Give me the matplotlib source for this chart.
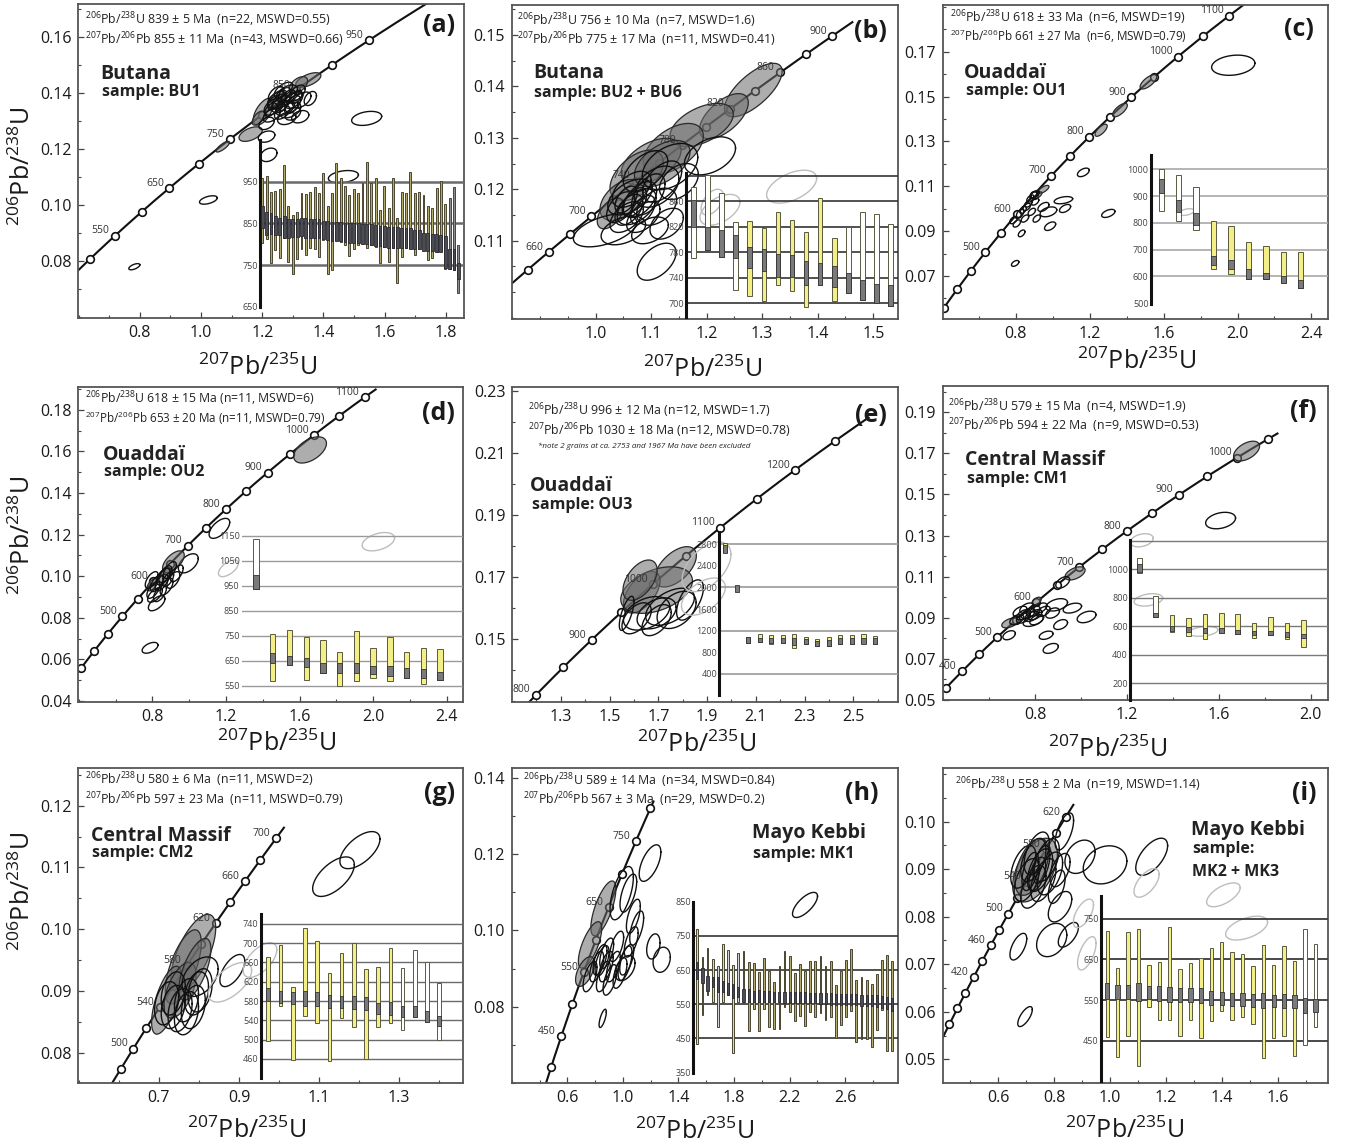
import numpy as np
import matplotlib
matplotlib.use("Agg")
import matplotlib.pyplot as plt
from matplotlib.ticker import MultipleLocator, FormatStrFormatter

plt.rcParams['font.family'] = ['Open Sans', 'DejaVu Sans']
plt.rcParams['mathtext.fontset'] = 'custom'
plt.rcParams['mathtext.rm'] = 'Open Sans'
plt.rcParams['mathtext.it'] = 'Open Sans:italic'
plt.rcParams['mathtext.bf'] = 'Open Sans:bold'

W, H = 1349, 1146
L238, L235 = 1.55125e-10, 9.8485e-10
nan = np.nan

# ---------------------------------------------------------------- (a) Butana BU1
a_header = [r"$^{206}$Pb/$^{238}$U 839 ± 5 Ma  (n=22, MSWD=0.55)",
            r"$^{207}$Pb/$^{206}$Pb 855 ± 11 Ma  (n=43, MSWD=0.66)"]
a_region, a_sample = "Butana", "sample: BU1"
a_marker_ages = list(range(500, 951, 50))
a_label_ages = [550, 650, 750, 850, 950]
a_xticks = [0.8, 1.0, 1.2, 1.4, 1.6, 1.8]
a_yticks = [0.08, 0.10, 0.12, 0.14, 0.16]
a_ell = [(1.071, 0.1208, 0.022, 0.0019, 0.8, 'g'), (1.162, 0.1253, 0.038, 0.0026, 0.5, 'g'),
         (1.2035, 0.1333, 0.033, 0.0048, 0.6, 'g'), (1.3505, 0.1446, 0.041, 0.0026, 0.6, 'g'),
         (1.318, 0.1428, 0.030, 0.0030, 0.5, 'g'), (1.187, 0.1310, 0.020, 0.0025, 0.6, 'g'),
         (1.25, 0.1380, 0.030, 0.0030, 0.6, 'g'),
         (1.280, 0.1398, 0.035, 0.0030, 0.5, 'o'), (1.302, 0.1375, 0.030, 0.0030, 0.5, 'o'),
         (1.247, 0.1375, 0.030, 0.0030, 0.5, 'o'), (1.236, 0.1351, 0.030, 0.0030, 0.5, 'o'),
         (1.291, 0.1339, 0.035, 0.0028, 0.4, 'o'), (1.329, 0.1375, 0.030, 0.0028, 0.5, 'o'),
         (1.269, 0.1410, 0.030, 0.0028, 0.6, 'o'), (1.231, 0.1321, 0.028, 0.0025, 0.5, 'o'),
         (1.280, 0.1309, 0.030, 0.0022, 0.3, 'o'), (1.214, 0.1291, 0.025, 0.0022, 0.4, 'o'),
         (1.214, 0.1244, 0.027, 0.0020, 0.3, 'o'), (1.357, 0.1380, 0.020, 0.0025, 0.4, 'o'),
         (1.324, 0.1315, 0.028, 0.0022, 0.3, 'o'), (1.26, 0.1360, 0.030, 0.0030, 0.5, 'o'),
         (1.30, 0.1360, 0.025, 0.0030, 0.5, 'o'), (1.245, 0.1395, 0.025, 0.0028, 0.5, 'o'),
         (1.315, 0.1400, 0.025, 0.0028, 0.5, 'o'), (1.275, 0.1345, 0.030, 0.0025, 0.5, 'o'),
         (1.255, 0.1370, 0.022, 0.0026, 0.5, 'o'), (1.285, 0.1385, 0.022, 0.0026, 0.5, 'o'),
         (1.265, 0.1330, 0.025, 0.0024, 0.5, 'o'), (1.295, 0.1350, 0.022, 0.0024, 0.5, 'o'),
         (1.240, 0.1365, 0.022, 0.0026, 0.5, 'o'), (1.272, 0.1395, 0.020, 0.0024, 0.5, 'o'),
         (1.310, 0.1385, 0.020, 0.0024, 0.5, 'o'), (1.228, 0.1340, 0.020, 0.0024, 0.5, 'o'),
         (1.300, 0.1325, 0.025, 0.0022, 0.4, 'o'), (1.262, 0.1352, 0.018, 0.0022, 0.5, 'o'),
         (1.221, 0.1179, 0.027, 0.0024, 0.3, 'o'), (1.465, 0.1101, 0.049, 0.0022, 0.3, 'o'),
         (1.541, 0.1309, 0.049, 0.0025, 0.3, 'o'), (1.024, 0.1018, 0.029, 0.0015, 0.5, 'o'),
         (0.782, 0.0780, 0.018, 0.0011, 0.6, 'o')]
a_out_hi = [958, 964, 926, 928, 932, 990, 892, 870, 878, 924, 920, 926, 938, 924, 970, 892, 922, 996, 958, 940,
            918, 932, 922, 948, 998, 948, 958, 882, 940, 886, 958, 862, 926, 924, 974, 924, 926, 918, 892, 888,
            934, 952, 896, 912, 938, 798]
a_out_lo = [802, 812, 756, 786, 766, 814, 758, 728, 764, 788, 774, 790, 788, 770, 810, 728, 738, 810, 806, 798,
            772, 788, 798, 800, 792, 798, 794, 754, 794, 758, 792, 706, 770, 792, 792, 774, 788, 786, 762, 766,
            782, 786, 740, 740, 738, 684]
a_in_hi = [892, 878, 876, 868, 862, 868, 860, 860, 860, 862, 862, 860, 860, 860, 856, 856, 854, 854, 854, 852,
           852, 850, 850, 848, 848, 848, 846, 844, 844, 842, 842, 842, 838, 838, 838, 834, 834, 828, 826, 824,
           824, 822, 820, 788, 788, 754]
a_in_lo = [840, 822, 824, 822, 822, 816, 816, 818, 818, 820, 816, 814, 814, 814, 812, 810, 808, 808, 808, 806,
           804, 804, 802, 800, 800, 798, 796, 796, 794, 792, 792, 790, 790, 790, 788, 788, 788, 784, 784, 784,
           782, 782, 742, 740, 738, 716]
a_kind = 'y' * 43 + 'www'
a_inset_lines = [950, 850, 750]
a_inset_labels = [950, 850, 750, 650]

# ---------------------------------------------------------------- (b) Butana BU2+BU6
b_header = [r"$^{206}$Pb/$^{238}$U 756 ± 10 Ma  (n=7, MSWD=1.6)",
            r"$^{207}$Pb/$^{206}$Pb 775 ± 17 Ma  (n=11, MSWD=0.41)"]
b_region, b_sample = "Butana", "sample: BU2 + BU6"
b_marker_ages = list(range(640, 901, 20))
b_label_ages = [660, 700, 740, 780, 820, 860, 900]
b_xticks = [1.0, 1.1, 1.2, 1.3, 1.4, 1.5]
b_yticks = [0.11, 0.12, 0.13, 0.14, 0.15]
b_ell = [(1.284, 0.1393, 0.052, 0.0052, 0.7, 'g'), (1.231, 0.1342, 0.044, 0.0044, 0.6, 'g'),
         (1.191, 0.1325, 0.057, 0.0042, 0.5, 'g'), (1.140, 0.1279, 0.054, 0.0049, 0.5, 'g'),
         (1.100, 0.1254, 0.054, 0.0045, 0.5, 'g'), (1.074, 0.1227, 0.048, 0.0049, 0.5, 'g'),
         (1.047, 0.1179, 0.039, 0.0040, 0.45, 'g'), (1.027, 0.1153, 0.024, 0.0030, 0.5, 'g'),
         (1.120, 0.1250, 0.050, 0.0045, 0.5, 'g'),
         (1.134, 0.1244, 0.050, 0.0045, 0.4, 'o'), (1.206, 0.1265, 0.046, 0.0037, 0.4, 'o'),
         (1.110, 0.1205, 0.040, 0.0040, 0.4, 'o'), (1.062, 0.1185, 0.040, 0.0035, 0.5, 'o'),
         (1.074, 0.1166, 0.035, 0.0035, 0.5, 'o'), (1.056, 0.1146, 0.030, 0.0030, 0.5, 'o'),
         (1.086, 0.1146, 0.030, 0.0030, 0.5, 'o'), (1.098, 0.1120, 0.033, 0.0026, 0.4, 'o'),
         (1.050, 0.1120, 0.040, 0.0028, 0.4, 'o'), (1.017, 0.1120, 0.057, 0.0032, 0.5, 'o'),
         (1.110, 0.1166, 0.036, 0.0036, 0.4, 'o'), (1.128, 0.1133, 0.030, 0.0030, 0.4, 'o'),
         (1.110, 0.1059, 0.035, 0.0036, 0.5, 'o'), (1.065, 0.1200, 0.035, 0.0035, 0.5, 'o'),
         (1.080, 0.1180, 0.030, 0.0035, 0.5, 'o'), (1.095, 0.1190, 0.030, 0.0040, 0.5, 'o'),
         (1.060, 0.1160, 0.025, 0.0030, 0.5, 'o'), (1.045, 0.1165, 0.025, 0.0030, 0.5, 'o'),
         (1.090, 0.1235, 0.040, 0.0040, 0.5, 'o'), (1.120, 0.1215, 0.035, 0.0040, 0.5, 'o'),
         (1.150, 0.1215, 0.035, 0.0035, 0.4, 'o'), (1.070, 0.1175, 0.022, 0.0028, 0.5, 'o'),
         (1.085, 0.1160, 0.022, 0.0028, 0.5, 'o'), (1.055, 0.1180, 0.020, 0.0026, 0.5, 'o'),
         (1.353, 0.1205, 0.045, 0.0032, 0.5, 'l'), (1.224, 0.1160, 0.036, 0.0030, 0.5, 'l'),
         (1.210, 0.1175, 0.020, 0.0025, 0.5, 'l')]
b_out_hi = [883, 901, 873, 828, 829, 818, 844, 831, 812, 865, 802, 820, 844, 840, 824]
b_out_lo = [771, 784, 773, 721, 712, 703, 729, 719, 695, 729, 703, 716, 705, 700, 696]
b_in_hi = [862, 820, 815, 807, 789, 785, 777, 776, 767, 763, 759, 748, 737, 731, 729]
b_in_lo = [820, 784, 773, 771, 755, 750, 742, 741, 729, 729, 725, 716, 705, 700, 696]
b_kind = 'wwwwyyyyyyywwww'
b_inset_lines = [900, 860, 820, 780, 740, 700]
b_inset_labels = [860, 820, 780, 740, 700]

# ---------------------------------------------------------------- (c) Ouaddai OU1
c_header = [r"$^{206}$Pb/$^{238}$U 618 ± 33 Ma  (n=6, MSWD=19)",
            r"$^{207}$Pb/$^{206}$Pb 661 ± 27 Ma  (n=6, MSWD=0.79)"]
c_region, c_sample = "Ouaddaï", "sample: OU1"
c_marker_ages = list(range(350, 1101, 50))
c_label_ages = [500, 600, 700, 800, 900, 1000, 1100]
c_xticks = [0.8, 1.2, 1.6, 2.0, 2.4]
c_yticks = [0.07, 0.09, 0.11, 0.13, 0.15, 0.17]
c_ell = [(1.518, 0.1566, 0.045, 0.0032, 0.7, 'g'), (1.364, 0.1440, 0.040, 0.0030, 0.7, 'g'),
         (1.262, 0.1350, 0.033, 0.0027, 0.7, 'g'), (0.950, 0.1086, 0.030, 0.0018, 0.7, 'g'),
         (0.922, 0.1060, 0.020, 0.0015, 0.7, 'g'),
         (1.977, 0.1640, 0.117, 0.0045, 0.2, 'o'), (1.166, 0.1162, 0.032, 0.0019, 0.5, 'o'),
         (1.301, 0.0979, 0.036, 0.0018, 0.5, 'o'), (1.058, 0.1038, 0.050, 0.0016, 0.4, 'o'),
         (1.067, 0.1001, 0.030, 0.0018, 0.5, 'o'), (0.977, 0.0986, 0.045, 0.0022, 0.4, 'o'),
         (0.950, 0.1008, 0.030, 0.0020, 0.5, 'o'), (0.986, 0.0922, 0.030, 0.0019, 0.5, 'o'),
         (0.905, 0.1031, 0.020, 0.0015, 0.5, 'o'), (0.896, 0.1061, 0.020, 0.0015, 0.5, 'o'),
         (0.887, 0.0986, 0.020, 0.0016, 0.5, 'o'), (0.860, 0.1008, 0.020, 0.0016, 0.5, 'o'),
         (0.832, 0.0890, 0.018, 0.0015, 0.5, 'o'), (0.797, 0.0756, 0.020, 0.0013, 0.5, 'o'),
         (0.824, 0.0979, 0.020, 0.0018, 0.5, 'o'), (0.788, 0.0949, 0.020, 0.0016, 0.5, 'o'),
         (0.806, 0.0934, 0.020, 0.0016, 0.5, 'o'), (0.850, 0.0956, 0.020, 0.0016, 0.5, 'o'),
         (0.869, 0.1023, 0.020, 0.0016, 0.5, 'o'), (0.914, 0.0956, 0.020, 0.0016, 0.5, 'o'),
         (0.840, 0.0995, 0.018, 0.0016, 0.5, 'o'), (0.880, 0.1045, 0.020, 0.0016, 0.5, 'o'),
         (0.905, 0.1065, 0.022, 0.0016, 0.5, 'o'),
         (1.725, 0.0985, 0.040, 0.0015, 0.4, 'l')]
c_out_hi = [1000, 979, 933, 806, 787, 728, 715, 692, 692]
c_out_lo = [845, 808, 775, 629, 608, 592, 589, 574, 558]
c_in_hi = [963, 886, 837, 676, 663, 626, 614, 601, 587]
c_in_lo = [913, 840, 793, 642, 629, 592, 589, 574, 558]
c_kind = 'wwwyyyyyy'
c_inset_lines = [1000, 900, 800, 700, 600]
c_inset_labels = [1000, 900, 800, 700, 600, 500]

# ---------------------------------------------------------------- (d) Ouaddai OU2
d_header = [r"$^{206}$Pb/$^{238}$U 618 ± 15 Ma (n=11, MSWD=6)",
            r"$^{207}$Pb/$^{206}$Pb 653 ± 20 Ma (n=11, MSWD=0.79)"]
d_region, d_sample = "Ouaddaï", "sample: OU2"
d_marker_ages = list(range(350, 1101, 50))
d_label_ages = [500, 600, 700, 800, 900, 1000, 1100]
d_xticks = [0.8, 1.2, 1.6, 2.0, 2.4]
d_yticks = [0.04, 0.06, 0.08, 0.10, 0.12, 0.14, 0.16, 0.18]
d_ell = [(1.657, 0.1607, 0.089, 0.0063, 0.5, 'g'),
         (1.164, 0.1230, 0.056, 0.0048, 0.6, 'o'), (0.995, 0.1062, 0.054, 0.0046, 0.5, 'o'),
         (0.914, 0.1070, 0.059, 0.0052, 0.6, 'g'),
         (0.800, 0.0960, 0.030, 0.0030, 0.6, 'g'), (0.860, 0.1000, 0.040, 0.0040, 0.6, 'g'),
         (0.823, 0.0966, 0.035, 0.0040, 0.6, 'o'), (0.859, 0.0998, 0.035, 0.0040, 0.6, 'o'),
         (0.877, 0.0950, 0.035, 0.0040, 0.6, 'o'), (0.914, 0.0982, 0.035, 0.0040, 0.6, 'o'),
         (0.805, 0.0934, 0.035, 0.0040, 0.6, 'o'), (0.895, 0.1030, 0.035, 0.0040, 0.6, 'o'),
         (0.841, 0.0918, 0.035, 0.0040, 0.6, 'o'), (0.932, 0.1014, 0.035, 0.0040, 0.6, 'o'),
         (0.796, 0.0982, 0.035, 0.0040, 0.6, 'o'), (0.870, 0.1010, 0.035, 0.0040, 0.6, 'o'),
         (0.850, 0.0970, 0.035, 0.0040, 0.6, 'o'), (0.885, 0.0985, 0.030, 0.0035, 0.6, 'o'),
         (0.823, 0.0870, 0.045, 0.0036, 0.6, 'o'), (0.814, 0.0910, 0.040, 0.0035, 0.6, 'o'),
         (0.787, 0.0656, 0.043, 0.0026, 0.5, 'o'),
         (2.028, 0.1166, 0.088, 0.0044, 0.4, 'l'), (1.213, 0.1038, 0.054, 0.0040, 0.6, 'l')]
d_out_hi = [1135, 756, 773, 747, 734, 687, 771, 700, 744, 687, 700, 698]
d_out_lo = [936, 570, 634, 574, 603, 550, 571, 581, 570, 581, 558, 574]
d_in_hi = [993, 683, 670, 660, 640, 640, 640, 630, 630, 620, 616, 607]
d_in_lo = [936, 643, 634, 624, 603, 603, 601, 598, 590, 583, 581, 574]
d_kind = 'wyyyyyyyyyyy'
d_inset_lines = [1150, 1050, 950, 850, 750, 650, 550]
d_inset_labels = [1150, 1050, 950, 850, 750, 650, 550]

# ---------------------------------------------------------------- (e) Ouaddai OU3
e_header = [r"$^{206}$Pb/$^{238}$U 996 ± 12 Ma (n=12, MSWD=1.7)",
            r"$^{207}$Pb/$^{206}$Pb 1030 ± 18 Ma (n=12, MSWD=0.78)"]
e_note = "*note 2 grains at ca. 2753 and 1967 Ma have been excluded"
e_region, e_sample = "Ouaddaï", "sample: OU3"
e_marker_ages = list(range(800, 1251, 50))
e_label_ages = [800, 900, 1000, 1100, 1200]
e_xticks = [1.3, 1.5, 1.7, 1.9, 2.1, 2.3, 2.5]
e_yticks = [0.15, 0.17, 0.19, 0.21, 0.23]
e_ell = [(1.771, 0.1734, 0.085, 0.0065, 0.55, 'g'), (1.632, 0.1652, 0.075, 0.0067, 0.55, 'g'),
         (1.693, 0.1659, 0.147, 0.0075, 0.4, 'g'), (1.625, 0.1691, 0.070, 0.0065, 0.5, 'g'),
         (1.652, 0.1584, 0.095, 0.0054, 0.4, 'o'), (1.693, 0.1584, 0.080, 0.0050, 0.4, 'o'),
         (1.748, 0.1605, 0.100, 0.0060, 0.5, 'o'), (1.830, 0.1627, 0.055, 0.0065, 0.6, 'o'),
         (1.611, 0.1568, 0.060, 0.0050, 0.5, 'o'), (1.570, 0.1584, 0.030, 0.0055, 0.7, 'o'),
         (1.693, 0.1562, 0.060, 0.0050, 0.5, 'o'), (1.775, 0.1595, 0.080, 0.0060, 0.4, 'o'),
         (1.898, 0.1734, 0.100, 0.0080, 0.5, 'l'), (1.885, 0.1638, 0.090, 0.0060, 0.5, 'l')]
e_out_hi = [2812, nan, 1089, 1138, 1120, 1120, 1132, 1077, 1040, 1077, 1120, 1120, 1132, 1101]
e_out_lo = [2658, nan, 966, 997, 954, 978, 874, 948, 917, 917, 954, 954, 966, 954]
e_in_hi = [2782, 2043, 1077, 1058, 1058, 1058, 1058, 1046, 1015, 1028, 1058, 1058, 1058, 1058]
e_in_lo = [2640, 1920, 966, 997, 966, 978, 935, 948, 917, 923, 954, 954, 954, 954]
e_kind = 'y' * 14
e_inset_lines = [2800, 2000, 1200, 400]
e_inset_labels = [2800, 2400, 2000, 1600, 1200, 800, 400]

# ---------------------------------------------------------------- (f) Central Massif CM1
f_header = [r"$^{206}$Pb/$^{238}$U 579 ± 15 Ma  (n=4, MSWD=1.9)",
            r"$^{207}$Pb/$^{206}$Pb 594 ± 22 Ma  (n=9, MSWD=0.53)"]
f_region, f_sample = "Central Massif", "sample: CM1"
f_marker_ages = list(range(350, 1051, 50))
f_label_ages = [400, 500, 600, 700, 800, 900, 1000]
f_xticks = [0.8, 1.2, 1.6, 2.0]
f_yticks = [0.05, 0.07, 0.09, 0.11, 0.13, 0.15, 0.17, 0.19]
f_ell = [(1.720, 0.1711, 0.0565, 0.0048, 0.5, 'g'), (0.974, 0.1116, 0.0435, 0.0032, 0.5, 'g'),
         (0.691, 0.0875, 0.036, 0.0024, 0.5, 'g'), (0.807, 0.0982, 0.020, 0.0018, 0.5, 'g'),
         (1.607, 0.1373, 0.065, 0.0040, 0.3, 'o'), (0.920, 0.1072, 0.030, 0.0028, 0.5, 'o'),
         (0.7344, 0.0931, 0.030, 0.0025, 0.5, 'o'), (0.7634, 0.0947, 0.030, 0.0025, 0.5, 'o'),
         (0.7924, 0.0931, 0.030, 0.0025, 0.5, 'o'), (0.8214, 0.0947, 0.030, 0.0025, 0.5, 'o'),
         (0.7489, 0.0899, 0.030, 0.0025, 0.5, 'o'), (0.7851, 0.0907, 0.030, 0.0025, 0.5, 'o'),
         (0.836, 0.0931, 0.030, 0.0025, 0.5, 'o'), (0.720, 0.0891, 0.030, 0.0025, 0.5, 'o'),
         (0.807, 0.0891, 0.030, 0.0025, 0.5, 'o'), (0.770, 0.0920, 0.030, 0.0025, 0.5, 'o'),
         (0.750, 0.0915, 0.030, 0.0025, 0.5, 'o'), (0.800, 0.0915, 0.030, 0.0025, 0.5, 'o'),
         (0.792, 0.0886, 0.044, 0.0028, 0.5, 'o'), (0.894, 0.0963, 0.047, 0.0030, 0.4, 'o'),
         (0.962, 0.0947, 0.040, 0.0024, 0.4, 'o'), (1.024, 0.0904, 0.041, 0.0028, 0.4, 'o'),
         (0.876, 0.0923, 0.030, 0.0025, 0.4, 'o'), (0.911, 0.0867, 0.030, 0.0024, 0.4, 'o'),
         (0.848, 0.0815, 0.030, 0.0020, 0.4, 'o'), (0.868, 0.0751, 0.033, 0.0024, 0.4, 'o'),
         (0.687, 0.0815, 0.027, 0.0022, 0.4, 'o'),
         (1.264, 0.1277, 0.050, 0.0032, 0.3, 'l'), (1.293, 0.0987, 0.062, 0.0030, 0.3, 'l'),
         (1.532, 0.0834, 0.063, 0.0024, 0.3, 'l')]
f_out_hi = [1076, 812, 679, 660, 684, 695, 684, 625, 667, 625, 644]
f_out_lo = [971, 663, 562, 532, 508, 555, 546, 515, 539, 511, 457]
f_in_hi = [1036, 691, 602, 592, 585, 585, 574, 569, 569, 557, 546]
f_in_lo = [983, 663, 569, 562, 550, 555, 546, 539, 539, 527, 515]
f_kind = 'wwyyyyyyyyy'
f_inset_lines = [1200, 1000, 800, 600, 400, 200]
f_inset_labels = [1000, 800, 600, 400, 200]

# ---------------------------------------------------------------- (g) Central Massif CM2
g_header = [r"$^{206}$Pb/$^{238}$U 580 ± 6 Ma  (n=11, MSWD=2)",
            r"$^{207}$Pb/$^{206}$Pb 597 ± 23 Ma  (n=11, MSWD=0.79)"]
g_region, g_sample = "Central Massif", "sample: CM2"
g_marker_ages = list(range(480, 701, 20))
g_label_ages = [500, 540, 580, 620, 660, 700]
g_xticks = [0.7, 0.9, 1.1, 1.3]
g_yticks = [0.08, 0.09, 0.10, 0.11, 0.12]
g_ell = [(0.786, 0.0961, 0.056, 0.0063, 0.65, 'g'), (0.761, 0.0939, 0.045, 0.0060, 0.65, 'g'),
         (0.7195, 0.0885, 0.0375, 0.0055, 0.65, 'g'), (0.753, 0.0901, 0.040, 0.0045, 0.55, 'g'),
         (0.790, 0.0935, 0.040, 0.0050, 0.65, 'g'),
         (0.736, 0.0874, 0.030, 0.0035, 0.3, 'o'), (0.769, 0.0885, 0.030, 0.0035, 0.3, 'o'),
         (0.794, 0.0896, 0.030, 0.0035, 0.3, 'o'), (0.7195, 0.0880, 0.030, 0.0035, 0.3, 'o'),
         (0.753, 0.0869, 0.030, 0.0035, 0.3, 'o'), (0.786, 0.0874, 0.030, 0.0035, 0.3, 'o'),
         (0.736, 0.0896, 0.030, 0.0035, 0.3, 'o'), (0.769, 0.0864, 0.030, 0.0035, 0.3, 'o'),
         (0.803, 0.0901, 0.030, 0.0035, 0.3, 'o'),
         (0.803, 0.0923, 0.045, 0.0032, 0.4, 'o'), (0.8834, 0.0933, 0.031, 0.0026, 0.6, 'o'),
         (0.8776, 0.0914, 0.054, 0.0032, 0.6, 'l'), (0.9525, 0.0950, 0.042, 0.0028, 0.6, 'l'),
         (1.202, 0.1128, 0.050, 0.0030, 0.6, 'o'), (1.136, 0.1085, 0.052, 0.0032, 0.6, 'o')]
g_out_hi = [671, 697, 609, 731, 704, 638, 680, 700, 646, 651, 690, 649, 685, 660, 618]
g_out_lo = [497, 570, 458, 549, 534, 456, 544, 527, 461, 527, 534, 520, 546, 537, 499]
g_in_hi = [607, 601, 599, 600, 598, 592, 590, 590, 589, 577, 578, 570, 570, 559, 550]
g_in_lo = [580, 576, 573, 570, 569, 565, 565, 563, 561, 553, 552, 547, 547, 537, 528]
g_kind = 'yyyyyyyyyyywwww'
g_inset_lines = [740, 700, 660, 620, 580, 540, 500, 460]
g_inset_labels = [740, 700, 660, 620, 580, 540, 500, 460]

# ---------------------------------------------------------------- (h) Mayo Kebbi MK1
h_header = [r"$^{206}$Pb/$^{238}$U 589 ± 14 Ma  (n=34, MSWD=0.84)",
            r"$^{207}$Pb/$^{206}$Pb 567 ± 3 Ma  (n=29, MSWD=0.2)"]
h_region, h_sample = "Mayo Kebbi", "sample: MK1"
h_marker_ages = list(range(400, 801, 50))
h_label_ages = [450, 550, 650, 750]
h_xticks = [0.6, 1.0, 1.4, 1.8, 2.2, 2.6]
h_yticks = [0.08, 0.10, 0.12, 0.14]
h_ell = [(0.8596, 0.1058, 0.090, 0.0072, 0.7, 'g'), (0.7636, 0.0962, 0.084, 0.0061, 0.7, 'g'),
         (0.7276, 0.0892, 0.068, 0.0039, 0.55, 'g'),
         (0.8116, 0.0905, 0.050, 0.0040, 0.6, 'o'), (0.8836, 0.0940, 0.050, 0.0040, 0.6, 'o'),
         (0.8596, 0.0879, 0.050, 0.0040, 0.6, 'o'), (0.9316, 0.0905, 0.050, 0.0040, 0.6, 'o'),
         (0.7636, 0.0879, 0.050, 0.0040, 0.6, 'o'), (0.9556, 0.0958, 0.050, 0.0040, 0.6, 'o'),
         (0.9076, 0.0870, 0.050, 0.0040, 0.6, 'o'), (0.8356, 0.0923, 0.050, 0.0040, 0.6, 'o'),
         (0.9796, 0.0888, 0.050, 0.0040, 0.6, 'o'), (1.0276, 0.0923, 0.050, 0.0040, 0.6, 'o'),
         (0.850, 0.0920, 0.050, 0.0040, 0.6, 'o'), (0.880, 0.0905, 0.050, 0.0040, 0.6, 'o'),
         (0.9916, 0.1098, 0.084, 0.0070, 0.6, 'o'), (1.0756, 0.1037, 0.050, 0.0045, 0.6, 'o'),
         (1.0996, 0.1006, 0.050, 0.0045, 0.6, 'o'), (1.0156, 0.0914, 0.050, 0.0045, 0.6, 'o'),
         (1.1956, 0.1177, 0.078, 0.0048, 0.6, 'o'), (1.2196, 0.0958, 0.048, 0.0033, 0.3, 'o'),
         (1.2796, 0.0923, 0.062, 0.0033, 0.2, 'o'), (1.0156, 0.0901, 0.072, 0.0033, 0.4, 'o'),
         (0.8548, 0.0769, 0.026, 0.0024, 0.7, 'o'), (2.3116, 0.1067, 0.090, 0.0033, 0.7, 'o'),
         (1.0396, 0.1098, 0.060, 0.0050, 0.6, 'o'), (1.060, 0.0970, 0.050, 0.0040, 0.6, 'o')]
h_out_hi = [769, 687, 716, 682, 663, 727, 708, 665, 700, 706, 675, 671, 644, 686, 646, 615, 663, 707, 692, 642,
            668, 648, 677, 677, 690, 663, 677, 607, 646, 680, 711, 622, 631, 622, 610, 639, 680, 694, 677]
h_out_lo = [435, 520, 576, 558, 484, 556, 578, 406, 556, 555, 471, 537, 471, 537, 484, 479, 477, 542, 527, 500,
            516, 485, 527, 513, 523, 503, 513, 452, 489, 513, 529, 440, 449, 449, 426, 474, 532, 413, 413]
h_in_hi = [673, 655, 634, 629, 629, 619, 613, 610, 600, 595, 595, 590, 592, 590, 590, 585, 585, 587, 587, 587,
           587, 585, 583, 583, 583, 583, 583, 581, 581, 581, 581, 581, 578, 578, 576, 576, 574, 571, 568]
h_in_lo = [624, 613, 590, 600, 586, 586, 578, 568, 571, 558, 556, 556, 556, 556, 556, 556, 556, 555, 555, 555,
           555, 555, 555, 555, 552, 552, 549, 549, 547, 547, 547, 547, 545, 545, 545, 542, 539, 537, 529]
h_kind = 'w' * 10 + 'y' * 29
h_inset_lines = [750, 650, 550, 450]
h_inset_labels = [850, 750, 650, 550, 450, 350]

# ---------------------------------------------------------------- (i) Mayo Kebbi MK2+MK3
i_header = [r"$^{206}$Pb/$^{238}$U 558 ± 2 Ma  (n=19, MSWD=1.14)"]
i_region, i_sample = "Mayo Kebbi", "sample:\nMK2 + MK3"
i_marker_ages = list(range(360, 621, 20))
i_label_ages = [420, 460, 500, 540, 580, 620]
i_xticks = [0.6, 0.8, 1.0, 1.2, 1.4, 1.6]
i_yticks = [0.05, 0.06, 0.07, 0.08, 0.09, 0.10]
i_ell = [(0.7317, 0.0898, 0.080, 0.0067, 0.5, 'g'), (0.720, 0.0905, 0.060, 0.0060, 0.5, 'g'),
         (0.7258, 0.0919, 0.045, 0.0045, 0.5, 'o'), (0.7496, 0.0898, 0.045, 0.0045, 0.5, 'o'),
         (0.702, 0.0877, 0.045, 0.0045, 0.5, 'o'), (0.7735, 0.0919, 0.045, 0.0045, 0.5, 'o'),
         (0.7258, 0.0863, 0.045, 0.0045, 0.5, 'o'), (0.7616, 0.0877, 0.045, 0.0045, 0.5, 'o'),
         (0.690, 0.0905, 0.045, 0.0045, 0.5, 'o'), (0.7854, 0.0891, 0.045, 0.0045, 0.5, 'o'),
         (0.7377, 0.0933, 0.045, 0.0045, 0.5, 'o'), (0.740, 0.0890, 0.030, 0.0035, 0.5, 'o'),
         (0.715, 0.0895, 0.030, 0.0040, 0.5, 'o'), (0.755, 0.0910, 0.030, 0.0040, 0.5, 'o'),
         (0.8367, 0.0979, 0.033, 0.0039, 0.6, 'o'), (0.8928, 0.0926, 0.054, 0.0035, 0.3, 'o'),
         (0.9823, 0.0909, 0.078, 0.0040, 0.2, 'o'), (1.1493, 0.0926, 0.057, 0.0039, 0.6, 'o'),
         (0.8212, 0.0898, 0.036, 0.0035, 0.5, 'o'), (0.8093, 0.0863, 0.030, 0.0035, 0.5, 'o'),
         (0.8212, 0.0821, 0.042, 0.0032, 0.5, 'o'), (0.7914, 0.0751, 0.054, 0.0035, 0.3, 'o'),
         (0.851, 0.0762, 0.036, 0.0026, 0.6, 'o'), (0.672, 0.0737, 0.030, 0.0028, 0.6, 'o'),
         (0.696, 0.0590, 0.026, 0.0021, 0.7, 'o'),
         (1.131, 0.0871, 0.045, 0.0030, 0.6, 'l'), (1.406, 0.0846, 0.060, 0.0025, 0.6, 'l'),
         (0.905, 0.0807, 0.036, 0.0030, 0.6, 'l'), (0.917, 0.0723, 0.033, 0.0035, 0.6, 'l'),
         (1.489, 0.0776, 0.075, 0.0025, 0.5, 'l')]
i_out_hi = [719, 628, 717, 724, 637, 644, 729, 626, 640, 654, 678, 692, 668, 664, 635, 686, 636, 683, 646, 725, 687]
i_out_lo = [459, 410, 463, 389, 532, 501, 501, 462, 500, 457, 499, 522, 501, 508, 491, 408, 456, 461, 412, 439, 485]
i_in_hi = [591, 588, 588, 591, 584, 584, 582, 579, 579, 579, 572, 569, 567, 567, 565, 567, 563, 565, 563, 555, 552]
i_in_lo = [552, 552, 552, 549, 552, 549, 546, 546, 546, 543, 538, 538, 535, 535, 533, 530, 532, 530, 530, 518, 520]
i_kind = 'y' * 19 + 'ww'
i_inset_lines = [750, 650, 550, 450]
i_inset_labels = [750, 650, 550, 450]

# ================================================================= drawing helpers
def conc(t_ma):
    t = np.asarray(t_ma, dtype=float) * 1e6
    return np.exp(L235 * t) - 1, np.exp(L238 * t) - 1


def ell_xy(cx, cy, sx, sy, rho, n=120):
    t = np.linspace(0, 2 * np.pi, n)
    return cx + sx * np.cos(t), cy + sy * (rho * np.cos(t) + np.sqrt(1 - rho ** 2) * np.sin(t))


def rect(l, t, r, b):
    return [l / W, 1 - b / H, (r - l) / W, (b - t) / H]


STY_OLIVE = dict(y='#b3ab6b', w='#8c8c8c', edge='#4a4630', g='#4c4c55', gedge='#2a2a30')
STY_BRIGHT = dict(y='#f3ef86', w='#ffffff', edge='#5a5a40', g='#7a7a7a', gedge='#333333')

header_fits = []


def draw_panel(p):
    ax = fig.add_axes(rect(*p['box']))
    ax.set_xlim(*p['xlim'])
    ax.set_ylim(*p['ylim'])
    ages = np.linspace(p['trange'][0], p['trange'][1], 400)
    cx, cy = conc(ages)
    ax.plot(cx, cy, color='#111111', lw=1.5, zorder=2)
    mx, my = conc(p['markers'])
    ax.plot(mx, my, 'o', ms=5.5, mfc='white', mec='#111111', mew=1.2, zorder=2.5)
    lx, ly = conc(p['labels'])
    for a, x_, y_ in zip(p['labels'], lx, ly):
        ax.annotate(str(a), (x_, y_), xytext=(-4, 3.5), textcoords='offset points',
                    ha='right', va='center', fontsize=7.5, color='#333333', zorder=6)
    for (ex, ey, sx, sy, rho, k) in p['ell']:
        xs, ys = ell_xy(ex, ey, sx, sy, rho)
        if k == 'g':
            ax.fill(xs, ys, facecolor=(0.42, 0.42, 0.42, 0.55), edgecolor='#2a2a2a', lw=0.9, zorder=3)
        elif k == 'o':
            ax.plot(xs, ys, color='#111111', lw=1.0, zorder=3)
        else:
            ax.plot(xs, ys, color='#bdbdbd', lw=1.0, zorder=3)
    ax.set_xticks(p['xticks'])
    ax.set_yticks(p['yticks'])
    ax.xaxis.set_minor_locator(MultipleLocator(p['xminor']))
    ax.yaxis.set_minor_locator(MultipleLocator(p['yminor']))
    ax.xaxis.set_major_formatter(FormatStrFormatter('%.1f'))
    ax.yaxis.set_major_formatter(FormatStrFormatter('%.2f'))
    ax.tick_params(which='major', direction='in', length=4, width=0.9, color='#444444',
                   labelsize=11.5, labelcolor='#1a1a1a', pad=5)
    ax.tick_params(which='minor', direction='in', length=2.5, width=0.8, color='#444444')
    for s in ax.spines.values():
        s.set_color('#555555')
        s.set_linewidth(1.3)
    for j, line in enumerate(p['header']):
        t = ax.text(p['hx'], p['hy'][j], line, transform=ax.transAxes, fontsize=9,
                    color='#222222', ha='left', va='center', zorder=7)
        header_fits.append((t, p['hw'][j]))
    ax.text(p['tx'], p['ty'], p['region'], transform=ax.transAxes, fontsize=14,
            fontweight='bold', color='#222222', ha='left', va='center')
    ax.text(p['sx'], p['sy'], p['sample'], transform=ax.transAxes, fontsize=11.5,
            fontweight='bold', color='#222222', ha='left', va='top', linespacing=1.6)
    ax.text(p['lx'], p['ly'], p['letter'], transform=ax.transAxes, fontsize=18,
            fontweight='bold', color='#1a1a1a', ha='right', va='center')
    if 'note' in p:
        ax.text(p['note'][0], p['note'][1], p['note'][2], transform=ax.transAxes,
                fontsize=5.8, style='italic', color='#222222', ha='left', va='center')
    il, it, ib = p['ibox']
    ia = fig.add_axes(rect(il, it, p['box'][2], ib))
    ia.set_facecolor('none')
    ia.set_xlim(*p['ixlim'])
    ia.set_ylim(*p['iylim'])
    for v in p['ilines']:
        ia.axhline(v, color=p['ilc'], lw=p['ilw'], zorder=1)
    st = p['sty']
    n = len(p['ohi'])
    xi = np.arange(n)
    ohi, olo = np.array(p['ohi'], float), np.array(p['olo'], float)
    ihi, ilo = np.array(p['ihi'], float), np.array(p['ilo'], float)
    kinds = np.array(list(p['kind']))
    for kk, col in (('y', st['y']), ('w', p.get('wcol', st['w']))):
        m = (kinds == kk) & ~np.isnan(ohi)
        ia.bar(xi[m], ohi[m] - olo[m], bottom=olo[m], width=p['wo'], color=col,
               edgecolor=st['edge'], lw=0.7, zorder=2)
    ia.bar(xi, ihi - ilo, bottom=ilo, width=p['wi'], color=st['g'], edgecolor=st['gedge'],
           lw=0.6, zorder=3)
    for s in ('top', 'right', 'bottom'):
        ia.spines[s].set_visible(False)
    if p['ispine']:
        ia.spines['left'].set_color('#111111')
        ia.spines['left'].set_linewidth(2.2)
    else:
        ia.spines['left'].set_visible(False)
    ia.set_xticks([])
    ia.set_yticks(p['ilabels'])
    ia.tick_params(axis='y', length=0, labelsize=6.5, labelcolor='#444444', pad=1.5)
    return ax


fig = plt.figure(figsize=(W / 100, H / 100), dpi=100)

panels = [
    dict(letter='(a)', box=(78.3, 4, 464, 318.3), xlim=(0.599, 1.859), ylim=(0.0596, 0.1717),
         trange=(400, 1100), markers=a_marker_ages, labels=a_label_ages, ell=a_ell,
         xticks=a_xticks, yticks=a_yticks, xminor=0.1, yminor=0.01,
         header=a_header, hw=[247, 258], hx=0.017, hy=[0.949, 0.888], region=a_region, sample=a_sample,
         tx=0.056, ty=0.777, sx=0.062, sy=0.745, lx=0.978, ly=0.933,
         ibox=(260, 140, 306.7), ixlim=(-0.53, 46.3), iylim=(650, 1050),
         ilines=a_inset_lines, ilabels=a_inset_labels, ilc='#6a6a6a', ilw=1.8, ispine=True,
         ohi=a_out_hi, olo=a_out_lo, ihi=a_in_hi, ilo=a_in_lo, kind=a_kind,
         sty=STY_OLIVE, wo=0.45, wi=0.65),
    dict(letter='(b)', box=(511.7, 4.7, 897.7, 319.3), xlim=(0.849, 1.544), ylim=(0.0947, 0.1559),
         trange=(600, 915), markers=b_marker_ages, labels=b_label_ages, ell=b_ell,
         xticks=b_xticks, yticks=b_yticks, xminor=0.05, yminor=0.005,
         header=b_header, hw=[240, 260], hx=0.013, hy=[0.95, 0.888], region=b_region, sample=b_sample,
         tx=0.056, ty=0.782, sx=0.059, sy=0.745, lx=0.971, ly=0.914,
         ibox=(686, 173.3, 316.7), ixlim=(-0.52, 14.5), iylim=(679, 904),
         ilines=b_inset_lines, ilabels=b_inset_labels, ilc='#333333', ilw=1.2, ispine=True,
         ohi=b_out_hi, olo=b_out_lo, ihi=b_in_hi, ilo=b_in_lo, kind=b_kind,
         sty=STY_BRIGHT, wo=0.32, wi=0.32),
    dict(letter='(c)', box=(942.7, 4.7, 1327.7, 319), xlim=(0.405, 2.488), ylim=(0.0508, 0.191),
         trange=(300, 1130), markers=c_marker_ages, labels=c_label_ages, ell=c_ell,
         xticks=c_xticks, yticks=c_yticks, xminor=0.2, yminor=0.01,
         header=c_header, hw=[235, 237], hx=0.019, hy=[0.96, 0.898], region=c_region, sample=c_sample,
         tx=0.056, ty=0.784, sx=0.06, sy=0.75, lx=0.963, ly=0.92,
         ibox=(1150.7, 155, 304), ixlim=(-0.61, 9.55), iylim=(497, 1053),
         ilines=c_inset_lines, ilabels=c_inset_labels, ilc='#a8a8a8', ilw=1.2, ispine=True,
         ohi=c_out_hi, olo=c_out_lo, ihi=c_in_hi, ilo=c_in_lo, kind=c_kind,
         sty=STY_BRIGHT, wo=0.31, wi=0.31),
    dict(letter='(d)', box=(78.3, 387.3, 463.3, 701.7), xlim=(0.397, 2.490), ylim=(0.0397, 0.1908),
         trange=(300, 1120), markers=d_marker_ages, labels=d_label_ages, ell=d_ell,
         xticks=d_xticks, yticks=d_yticks, xminor=0.2, yminor=0.01,
         header=d_header, hw=[230, 240], hx=0.017, hy=[0.963, 0.901], region=d_region, sample=d_sample,
         tx=0.063, ty=0.785, sx=0.066, sy=0.755, lx=0.978, ly=0.917,
         ibox=(241.7, 531.7, 690), ixlim=(-0.855, 12.39), iylim=(534, 1166),
         ilines=d_inset_lines, ilabels=d_inset_labels, ilc='#9a9a9a', ilw=1.0, ispine=False,
         ohi=d_out_hi, olo=d_out_lo, ihi=d_in_hi, ilo=d_in_lo, kind=d_kind,
         sty=STY_BRIGHT, wo=0.32, wi=0.32),
    dict(letter='(e)', box=(512.3, 387.3, 897.7, 701.7), xlim=(1.101, 2.682), ylim=(0.1299, 0.2313),
         trange=(700, 1290), markers=e_marker_ages, labels=e_label_ages, ell=e_ell,
         xticks=e_xticks, yticks=e_yticks, xminor=0.1, yminor=0.01,
         header=e_header, hw=[242, 263], hx=0.042, hy=[0.925, 0.863], region=e_region, sample=e_sample,
         tx=0.046, ty=0.685, sx=0.05, sy=0.652, lx=0.971, ly=0.911,
         note=(0.067, 0.812, e_note),
         ibox=(719.3, 531.7, 695), ixlim=(-0.52, 14.97), iylim=(12, 3028),
         ilines=e_inset_lines, ilabels=e_inset_labels, ilc='#9a9a9a', ilw=1.2, ispine=True,
         ohi=e_out_hi, olo=e_out_lo, ihi=e_in_hi, ilo=e_in_lo, kind=e_kind,
         sty=STY_BRIGHT, wo=0.35, wi=0.35),
    dict(letter='(f)', box=(942.7, 385.7, 1327.7, 700), xlim=(0.398, 2.073), ylim=(0.0513, 0.2029),
         trange=(300, 1065), markers=f_marker_ages, labels=f_label_ages, ell=f_ell,
         xticks=f_xticks, yticks=f_yticks, xminor=0.2, yminor=0.01,
         header=f_header, hw=[238, 252], hx=0.015, hy=[0.934, 0.873], region=f_region, sample=f_sample,
         tx=0.058, ty=0.765, sx=0.062, sy=0.728, lx=0.97, ly=0.917,
         ibox=(1130, 540, 700), ixlim=(-0.567, 11.49), iylim=(83, 1204),
         ilines=f_inset_lines, ilabels=f_inset_labels, ilc='#7a7a7a', ilw=1.0, ispine=True,
         ohi=f_out_hi, olo=f_out_lo, ihi=f_in_hi, ilo=f_in_lo, kind=f_kind,
         sty=STY_BRIGHT, wo=0.28, wi=0.28),
    dict(letter='(g)', box=(78.3, 768.3, 463.3, 1082.7), xlim=(0.499, 1.460), ylim=(0.07514, 0.12605),
         trange=(400, 710), markers=g_marker_ages, labels=g_label_ages, ell=g_ell,
         xticks=g_xticks, yticks=g_yticks, xminor=0.1, yminor=0.005,
         header=g_header, hw=[228, 260], hx=0.017, hy=[0.963, 0.899], region=g_region, sample=g_sample,
         tx=0.033, ty=0.785, sx=0.035, sy=0.757, lx=0.978, ly=0.92,
         ibox=(260.7, 913.7, 1078.3), ixlim=(-0.62, 15.97), iylim=(420, 761),
         ilines=g_inset_lines, ilabels=g_inset_labels, ilc='#6a6a6a', ilw=1.0, ispine=True,
         ohi=g_out_hi, olo=g_out_lo, ihi=g_in_hi, ilo=g_in_lo, kind=g_kind,
         sty=STY_BRIGHT, wo=0.3, wi=0.3),
    dict(letter='(h)', box=(511.7, 768.3, 897.7, 1082.7), xlim=(0.1996, 2.979), ylim=(0.060, 0.1426),
         trange=(300, 810), markers=h_marker_ages, labels=h_label_ages, ell=h_ell,
         xticks=h_xticks, yticks=h_yticks, xminor=0.2, yminor=0.01,
         header=h_header, hw=[252, 243], hx=0.030, hy=[0.96, 0.901], region=h_region, sample=h_sample,
         tx=0.622, ty=0.795, sx=0.626, sy=0.752, lx=0.95, ly=0.92,
         ibox=(693.3, 901.7, 1073.3), ixlim=(-0.78, 39.05), iylim=(348, 847),
         ilines=h_inset_lines, ilabels=h_inset_labels, ilc='#333333', ilw=1.2, ispine=True,
         ohi=h_out_hi, olo=h_out_lo, ihi=h_in_hi, ilo=h_in_lo, kind=h_kind,
         sty=STY_OLIVE, wcol='#d6d6d6', wo=0.35, wi=0.42),
    dict(letter='(i)', box=(942.7, 768.3, 1327.7, 1082.7), xlim=(0.4013, 1.7792), ylim=(0.0451, 0.1112),
         trange=(300, 635), markers=i_marker_ages, labels=i_label_ages, ell=i_ell,
         xticks=i_xticks, yticks=i_yticks, xminor=0.1, yminor=0.005,
         header=i_header, hw=[245], hx=0.032, hy=[0.947], region=i_region, sample=i_sample,
         tx=0.644, ty=0.804, sx=0.648, sy=0.77, lx=0.971, ly=0.92,
         ibox=(1100.7, 896.3, 1080.7), ixlim=(-0.63, 21.19), iylim=(352, 805),
         ilines=i_inset_lines, ilabels=i_inset_labels, ilc='#3a3a3a', ilw=1.3, ispine=True,
         ohi=i_out_hi, olo=i_out_lo, ihi=i_in_hi, ilo=i_in_lo, kind=i_kind,
         sty=STY_BRIGHT, wo=0.32, wi=0.42),
]

for p in panels:
    draw_panel(p)

xlab = r"$^{207}$Pb/$^{235}$U"
ylab = r"$^{206}$Pb/$^{238}$U"
for (px, py) in [(258, 375), (703, 377), (1137, 369), (277, 751), (697, 752), (1108, 757),
                 (247, 1138), (695, 1139), (1125, 1138)]:
    fig.text(px / W, 1 - py / H, xlab, fontsize=18, ha='center', va='baseline', color='#1a1a1a')
for (px, py) in [(23, 166), (23, 535), (23, 891)]:
    fig.text(px / W, 1 - py / H, ylab, fontsize=18, ha='center', va='center', rotation=90,
             color='#1a1a1a')

# scale each header line so that its width matches the reference
fig.canvas.draw()
renderer = fig.canvas.get_renderer()
for t, target in header_fits:
    wpx = t.get_window_extent(renderer).width
    t.set_fontsize(9 * target / wpx)

fig.savefig('out.png', dpi=100)
